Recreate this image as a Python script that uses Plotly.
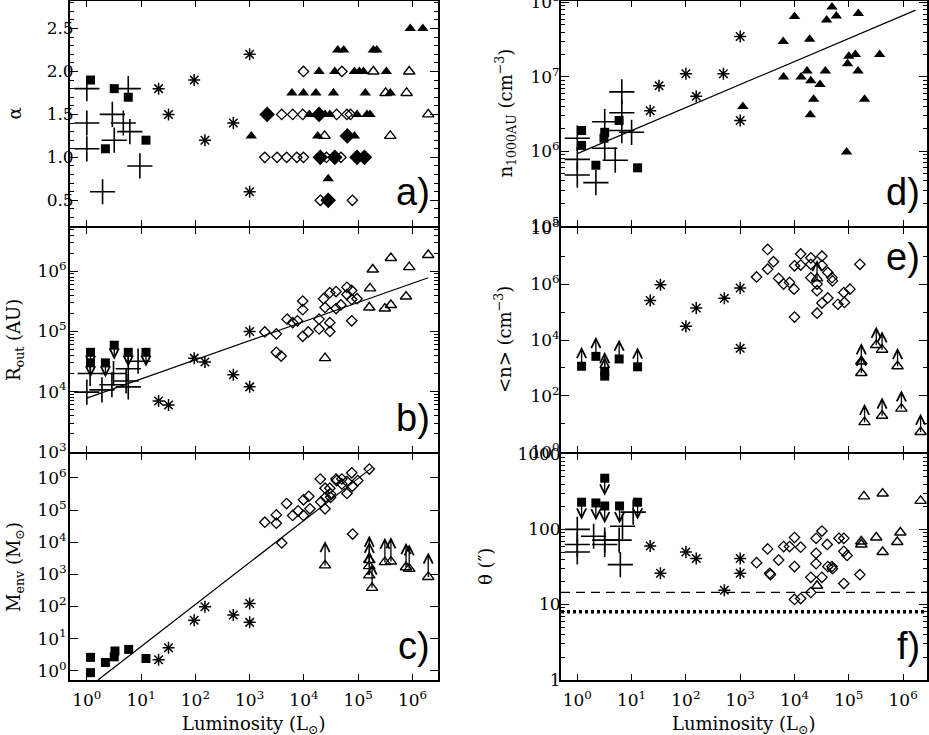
import numpy as np
import plotly.graph_objects as go

# ---------------- data ----------------
# panel a : alpha
a_plus_L = [1.0, 1.0, 1.0, 1.95, 2.95, 3.2, 4.7, 5.8, 6.2, 9.5]
a_plus_alpha = [1.8, 1.4, 1.1, 0.6, 1.5, 1.2, 1.4, 1.8, 1.3, 0.9]
a_sq_L = [1.17, 2.2, 3.2, 5.8, 12.3]
a_sq_alpha = [1.9, 1.1, 1.8, 1.7, 1.2]
a_ast_L = [21, 32, 95, 150, 500, 1000, 1000]
a_ast_alpha = [1.8, 1.5, 1.9, 1.2, 1.4, 2.2, 0.6]
a_dopen_L = [9.8e3, 5.0e4, 3.9e3, 6.2e3, 9.5e3, 4.0e4, 6.2e4, 7.2e4, 1.9e3, 3.2e3,
             4.8e3, 7.4e3, 9.8e3, 2.6e4, 4.8e4, 2.0e4, 7.8e4]
a_dopen_alpha = [2.0, 2.0, 1.5, 1.5, 1.5, 1.5, 1.5, 1.5, 1.0, 1.0,
                 1.0, 1.0, 1.0, 1.0, 1.0, 0.5, 0.5]
a_dfill_L = [2.1e3, 1.9e4, 6.3e4, 2.0e4, 3.7e4, 9.5e4, 1.3e5, 2.8e4]
a_dfill_alpha = [1.5, 1.5, 1.25, 1.0, 1.0, 1.0, 1.0, 0.5]
a_tfill_L = [9.1e5, 1.55e6, 4.2e4, 5.4e4, 1.9e5, 2.2e5, 1.9e4, 3.7e4, 8.5e4, 1.05e5,
             1.25e5, 3.3e5, 6.0e3, 9.8e3, 1.66e4, 3.5e4, 1.35e5, 3.9e5, 1.26e4, 2.45e4,
             3.0e4, 9.5e4, 1.45e5, 1.65e5, 1.07e3, 1.8e4, 8.5e4, 2.8e4]
a_tfill_alpha = [2.5, 2.5, 2.25, 2.25, 2.25, 2.25, 2.0, 2.0, 2.0, 2.0,
                 2.0, 2.0, 1.75, 1.75, 1.75, 1.75, 1.75, 1.75, 1.5, 1.5,
                 1.5, 1.5, 1.5, 1.5, 1.25, 1.25, 1.25, 0.75]
a_topen_L = [1.9e5, 8.7e5, 3.2e5, 7.8e5, 1.95e6, 2.4e4, 3.9e5]
a_topen_alpha = [2.0, 2.0, 1.75, 1.75, 1.5, 1.25, 1.25]

# panel b : R_out (AU)
b_plus_L = [1.0, 1.15, 1.9, 2.9, 3.1, 5.3, 5.8, 5.8, 8.8]
b_plus_R = [9.8e3, 2.0e4, 1.07e4, 1.3e4, 2.0e4, 1.5e4, 1.2e4, 2.4e4, 3.2e4]
b_sq_L = [1.17, 1.17, 2.2, 3.2, 5.8, 12.3]          # upper limits
b_sq_R = [4.5e4, 3.0e4, 3.0e4, 5.9e4, 4.5e4, 4.5e4]
b_ast_L = [21, 32, 95, 150, 500, 1000, 1000]
b_ast_R = [7.0e3, 6.0e3, 3.6e4, 3.1e4, 1.9e4, 1.0e5, 1.2e4]
b_dopen_L = [1.9e3, 3.1e3, 3.1e3, 3.8e3, 4.9e3, 6.2e3, 7.6e3, 9.5e3, 9.5e3, 9.5e3,
             1.2e4, 1.9e4, 1.9e4, 2.3e4, 2.45e4, 3.0e4, 3.0e4, 3.0e4, 3.9e4, 3.9e4,
             4.8e4, 6.2e4, 6.2e4, 7.6e4, 7.6e4, 7.6e4, 9.5e4]
b_dopen_R = [9.8e4, 9.1e4, 4.5e4, 3.9e4, 1.6e5, 1.4e5, 1.5e5, 3.2e5, 2.3e5, 8.3e4,
             9.8e4, 1.6e5, 1.1e5, 3.5e5, 2.5e5, 4.4e5, 1.4e5, 1.0e5, 4.6e5, 2.4e5,
             2.75e5, 5.4e5, 4.1e5, 4.8e5, 3.4e5, 1.5e5, 3.5e5]
b_topen_L = [2.45e4, 1.6e5, 1.65e5, 1.85e5, 3.1e5, 4.0e5, 4.0e5, 7.6e5, 8.7e5, 1.95e6]
b_topen_R = [3.6e4, 2.5e5, 5.2e5, 1.07e6, 2.4e5, 2.75e5, 1.66e6, 3.8e5, 1.17e6, 1.86e6]
b_fit_L = [1.0, 1.95e6]
b_fit_R = [7.8e3, 7.8e5]

# panel c : M_env (Msun)
c_sq_L = [1.17, 1.17, 2.2, 3.2, 3.3, 5.9, 12.3]
c_sq_M = [2.6, 0.87, 1.8, 2.7, 4.1, 4.6, 2.4]
c_ast_L = [21, 32, 95, 150, 500, 1000, 1000]
c_ast_M = [2.2, 5.2, 37, 98, 54, 123, 32]
c_dopen_L = [1.9e3, 3.1e3, 3.1e3, 3.9e3, 4.8e3, 6.2e3, 7.8e3, 9.8e3, 9.8e3, 1.23e4,
             1.29e4, 2.0e4, 2.05e4, 2.45e4, 2.45e4, 2.5e4, 3.0e4, 3.1e4, 3.1e4, 3.9e4,
             4.0e4, 5.0e4, 5.0e4, 6.2e4, 6.2e4, 7.6e4, 7.8e4, 7.9e4, 9.8e4, 1.6e5]
c_dopen_M = [4.2e4, 7.1e4, 3.9e4, 9.5e3, 1.6e5, 6.8e4, 9.5e4, 2.1e5, 6.8e4, 2.7e5,
             1.1e5, 9.3e5, 1.8e5, 4.8e5, 1.1e5, 2.5e5, 4.8e5, 3.2e5, 2.5e5, 9.3e5,
             8.3e5, 9.3e5, 6.5e5, 7.8e5, 3.3e5, 1.45e6, 5.5e5, 1.8e4, 8.3e5, 1.9e6]
c_topen_L = [2.45e4, 1.6e5, 1.6e5, 1.6e5, 1.8e5, 3.1e5, 4.0e5, 7.6e5, 8.7e5, 1.95e6]   # lower limits
c_topen_M = [1.9e3, 2.8e3, 1.8e3, 9.3e2, 3.8e2, 2.4e3, 2.5e3, 1.66e3, 1.5e3, 8.3e2]
c_fit_L = [1.6, 1.8e5]
c_fit_M = [0.51, 2.1e6]

# panel d : n_1000AU (cm^-3)
d_plus_L = [1.0, 1.0, 1.0, 2.2, 3.2, 3.2, 5.0, 6.6, 6.6, 6.6, 10.0]
d_plus_n = [1.5e6, 7.8e5, 4.8e5, 3.8e5, 2.5e6, 1.1e6, 7.6e5, 6.3e6, 3.3e6, 1.9e6, 1.8e6]
d_sq_L = [1.2, 1.2, 2.2, 3.1, 3.2, 5.9, 12.9]
d_sq_n = [1.9e6, 1.2e6, 6.5e5, 1.5e6, 1.8e6, 2.6e6, 6.0e5]
d_ast_L = [22, 32, 100, 155, 490, 1000, 1000]
d_ast_n = [3.5e6, 7.6e6, 1.1e7, 5.5e6, 1.1e7, 3.5e7, 2.6e6]
d_tfill_L = [1.12e3, 6.2e3, 6.3e3, 1.0e4, 1.32e4, 1.7e4, 1.9e4, 1.95e4, 2.0e4, 2.25e4,
             2.95e4, 3.7e4, 3.9e4, 4.9e4, 5.9e4, 9.1e4, 9.5e4, 1.0e5, 1.32e5, 1.48e5,
             1.5e5, 1.95e5, 3.7e5]
d_tfill_n = [4.0e6, 3.0e7, 1.0e7, 6.5e7, 1.0e7, 1.2e7, 3.2e7, 3.1e6, 8.9e6, 5.0e6,
             7.9e6, 1.2e7, 5.8e7, 8.7e7, 6.6e7, 9.8e5, 1.5e7, 1.9e7, 2.0e7, 1.2e7,
             7.1e7, 5.0e6, 2.0e7]
d_fit_L = [1.0, 1.7e6]
d_fit_n = [9.3e5, 7.9e7]

# panel e : <n> (cm^-3)
e_sq_L = [1.2, 2.2, 3.2, 3.2, 5.9, 12.9]          # lower limits
e_sq_n = [1.15e3, 2.6e3, 5.1e2, 7.6e2, 2.1e3, 1.1e3]
e_ast_L = [22, 34, 100, 155, 510, 1000, 1000]
e_ast_n = [2.6e5, 9.5e5, 3.1e4, 1.4e5, 3.1e5, 7.2e5, 5.1e3]
e_dopen_L = [2.0e3, 3.2e3, 3.2e3, 4.1e3, 5.1e3, 6.3e3, 8.1e3, 9.8e3, 1.0e4, 1.0e4,
             1.3e4, 1.3e4, 2.0e4, 2.0e4, 2.0e4, 2.6e4, 2.6e4, 2.6e4, 3.2e4, 3.2e4,
             3.2e4, 4.1e4, 4.1e4, 4.9e4, 5.0e4, 6.3e4, 8.1e4, 8.3e4, 1.05e5, 1.6e5]
e_dopen_n = [1.8e6, 1.74e7, 3.4e6, 6.3e6, 1.6e6, 1.0e6, 1.15e6, 6.6e5, 4.5e6, 6.6e4,
             1.2e7, 4.8e6, 8.7e6, 5.1e6, 1.7e6, 1.0e6, 5.8e5, 9.1e4, 1.0e7, 4.7e6,
             2.1e5, 2.6e6, 3.2e5, 1.7e6, 1.3e6, 1.9e5, 5.0e5, 2.2e5, 6.6e5, 5.1e6]
e_topen_L = [2.6e4, 1.7e5, 1.7e5, 3.2e5, 4.1e5, 7.9e5, 1.95e5, 4.1e5, 9.3e5, 2.1e6]   # lower limits
e_topen_n = [1.6e6, 1.7e3, 6.6e2, 6.6e3, 4.5e3, 1.15e3, 11.5, 19.5, 35, 5.1]

# panel f : theta (arcsec)
f_plus_L = [1.0, 1.0, 1.0, 2.0, 3.2, 3.2, 5.9, 6.8, 6.2, 10.7]
f_plus_t = [100, 63, 50, 81, 72, 63, 72, 110, 34, 170]
f_sq_L = [1.2, 2.2, 3.2, 3.2, 6.0, 12.9]          # upper limits
f_sq_t = [230, 225, 205, 480, 205, 230]
f_ast_L = [22, 34, 100, 155, 510, 1000, 1000]
f_ast_t = [60, 26, 50, 41, 15.5, 41, 26]
f_dopen_L = [2.0e3, 3.2e3, 3.5e3, 3.6e3, 5.1e3, 6.3e3, 8.1e3, 1.0e4, 1.0e4, 1.3e4,
             2.5e4, 2.5e4, 2.5e4, 3.2e4, 3.2e4, 4.0e4, 4.1e4, 4.9e4, 5.0e4, 6.6e4,
             8.1e4, 8.1e4, 9.3e4, 8.1e4, 1.6e5, 2.0e4, 2.0e4, 1.0e4, 1.3e4]
f_dopen_t = [36, 55, 26, 25, 39, 59, 59, 78, 32, 58,
             76, 48, 35, 95, 23, 63, 32, 32, 30, 76,
             76, 51, 45, 19, 25, 23, 14.5, 11.7, 12]
f_topen_L = [2.6e4, 1.7e5, 1.7e5, 1.9e5, 3.2e5, 4.2e5, 4.2e5, 7.8e5, 8.9e5, 2.1e6]
f_topen_t = [17.8, 63, 69, 275, 78, 300, 50, 68, 91, 240]
f_dashed_t = 14.5
f_dotted_t = 8.0

# tick labels
lum_ticks = [1, 10, 100, 1e3, 1e4, 1e5, 1e6]
lum_ticktext = ["10<sup>%d</sup>" % k for k in range(7)]

# ---------------- styling ----------------
BLK = "black"
SERIF = "DejaVu Serif, Liberation Serif, serif"
STY = {
    "plus": dict(symbol="cross-thin-open", size=18, color=BLK, line=dict(width=1.6, color=BLK)),
    "sq": dict(symbol="square", size=9, color=BLK, line=dict(width=0)),
    "ast": dict(symbol="asterisk-open", size=10, color=BLK, line=dict(width=1.5, color=BLK)),
    "dopen": dict(symbol="diamond-open", size=8, color=BLK, line=dict(width=1.3, color=BLK)),
    "dfill": dict(symbol="diamond", size=12, color=BLK, line=dict(width=0)),
    "tfill": dict(symbol="triangle-up", size=10, color=BLK, line=dict(width=0)),
    "topen": dict(symbol="triangle-up-open", size=10, color=BLK, line=dict(width=1.4, color=BLK)),
}


def xn(n):
    return "x" if n == 1 else "x%d" % n


def yn(n):
    return "y" if n == 1 else "y%d" % n


fig = go.Figure()
annotations = []
shapes = []


def pts(n, xs, ys, kind):
    fig.add_trace(go.Scatter(x=xs, y=ys, mode="markers", marker=STY[kind],
                             xaxis=xn(n), yaxis=yn(n), showlegend=False,
                             hoverinfo="skip"))


def fitline(n, xs, ys):
    fig.add_trace(go.Scatter(x=xs, y=ys, mode="lines", line=dict(color=BLK, width=1.2),
                             xaxis=xn(n), yaxis=yn(n), showlegend=False,
                             hoverinfo="skip"))


def arrows(n, xs, ys, length_px):
    # arrow starting at the data point, head drawn at the far end
    for xv, yv in zip(xs, ys):
        annotations.append(dict(
            x=float(np.log10(xv)), y=float(np.log10(yv)),
            xref=xn(n), yref=yn(n), text="", showarrow=True,
            arrowside="start", startarrowhead=5, startarrowsize=1.4,
            arrowwidth=1.3, arrowcolor=BLK, ax=0, ay=length_px,
            standoff=0, startstandoff=0))


# panel a (1)
pts(1, a_plus_L, a_plus_alpha, "plus")
pts(1, a_sq_L, a_sq_alpha, "sq")
pts(1, a_ast_L, a_ast_alpha, "ast")
pts(1, a_dopen_L, a_dopen_alpha, "dopen")
pts(1, a_dfill_L, a_dfill_alpha, "dfill")
pts(1, a_tfill_L, a_tfill_alpha, "tfill")
pts(1, a_topen_L, a_topen_alpha, "topen")

# panel b (2)
fitline(2, b_fit_L, b_fit_R)
pts(2, b_plus_L, b_plus_R, "plus")
arrows(2, b_sq_L, b_sq_R, 16)
pts(2, b_sq_L, b_sq_R, "sq")
pts(2, b_ast_L, b_ast_R, "ast")
pts(2, b_dopen_L, b_dopen_R, "dopen")
pts(2, b_topen_L, b_topen_R, "topen")

# panel c (3)
fitline(3, c_fit_L, c_fit_M)
pts(3, c_sq_L, c_sq_M, "sq")
pts(3, c_ast_L, c_ast_M, "ast")
pts(3, c_dopen_L, c_dopen_M, "dopen")
arrows(3, c_topen_L, c_topen_M, -26)
pts(3, c_topen_L, c_topen_M, "topen")

# panel d (4)
fitline(4, d_fit_L, d_fit_n)
pts(4, d_plus_L, d_plus_n, "plus")
pts(4, d_sq_L, d_sq_n, "sq")
pts(4, d_ast_L, d_ast_n, "ast")
pts(4, d_tfill_L, d_tfill_n, "tfill")

# panel e (5)
arrows(5, e_sq_L, e_sq_n, -21)
pts(5, e_sq_L, e_sq_n, "sq")
pts(5, e_ast_L, e_ast_n, "ast")
pts(5, e_dopen_L, e_dopen_n, "dopen")
arrows(5, e_topen_L, e_topen_n, -20)
pts(5, e_topen_L, e_topen_n, "topen")

# panel f (6)
pts(6, f_plus_L, f_plus_t, "plus")
arrows(6, f_sq_L, f_sq_t, 19)
pts(6, f_sq_L, f_sq_t, "sq")
pts(6, f_ast_L, f_ast_t, "ast")
pts(6, f_dopen_L, f_dopen_t, "dopen")
pts(6, f_topen_L, f_topen_t, "topen")
shapes.append(dict(type="line", xref="x6 domain", yref="y6", x0=0, x1=1,
                   y0=f_dashed_t, y1=f_dashed_t,
                   line=dict(color=BLK, width=1.2, dash="9px,6px")))
shapes.append(dict(type="line", xref="x6 domain", yref="y6", x0=0, x1=1,
                   y0=f_dotted_t, y1=f_dotted_t,
                   line=dict(color=BLK, width=3.5, dash="3px,3px")))

# ---------------- axes ----------------
W, H = 929, 735
LW = 1.8
XL = [70 / W, 438 / W]
XR = [561 / W, 927 / W]
# rows separated by one line width so the shared borders coincide
ROW = {0: [1 - (227 - LW / 2) / H, 1 - 1 / H],
       1: [1 - (453 - LW / 2) / H, 1 - (227 + LW / 2) / H],
       2: [1 - 680 / H, 1 - (453 + LW / 2) / H]}

common = dict(showline=True, linewidth=LW, linecolor=BLK, mirror="allticks",
              ticks="inside", tickcolor=BLK, tickwidth=1.3, showgrid=False,
              zeroline=False, automargin=False, ticklabeloverflow="allow",
              tickfont=dict(family=SERIF, size=17, color=BLK))


def logminor(k0, k1):
    return [m * 10.0 ** k for k in range(k0, k1) for m in range(2, 10)]


layout_axes = {}
for n in range(1, 7):
    left = n <= 3
    row = (n - 1) % 3
    xa = dict(common, type="log", domain=XL if left else XR,
              range=[-0.31, 6.47] if left else [-0.30, 6.44],
              tickmode="array", tickvals=lum_ticks, ticktext=lum_ticktext,
              ticklen=6, anchor=yn(n), showticklabels=(row == 2),
              ticklabelstandoff=4)
    layout_axes["xaxis" if n == 1 else "xaxis%d" % n] = xa

yspec = {
    1: dict(type="linear", range=[0.2, 2.82], tickvals=[0.5, 1.0, 1.5, 2.0, 2.5],
            ticktext=["0.5", "1.0", "1.5", "2.0", "2.5"], ticklabelstandoff=-9,
            minor=dict(ticks="inside", ticklen=4, tickcolor=BLK, dtick=0.1, tick0=0, showgrid=False)),
    2: dict(type="log", range=[2.995, 6.72], tickvals=[1e3, 1e4, 1e5, 1e6],
            ticktext=["10<sup>3</sup>", "10<sup>4</sup>", "10<sup>5</sup>", "10<sup>6</sup>"],
            ticklabelstandoff=-2,
            minor=dict(ticks="inside", ticklen=4, tickcolor=BLK, tickmode="array",
                       tickvals=logminor(3, 7), showgrid=False)),
    3: dict(type="log", range=[-0.29, 6.75], tickvals=[1e0, 1e1, 1e2, 1e3, 1e4, 1e5, 1e6],
            ticktext=["10<sup>%d</sup>" % k for k in range(7)], ticklabelstandoff=-2),
    4: dict(type="log", range=[4.995, 8.02], tickvals=[1e5, 1e6, 1e7, 1e8],
            ticktext=["10<sup>5</sup>", "10<sup>6</sup>", "10<sup>7</sup>", "10<sup>8</sup>"],
            ticklabelstandoff=-4,
            minor=dict(ticks="inside", ticklen=4, tickcolor=BLK, tickmode="array",
                       tickvals=logminor(5, 8), showgrid=False)),
    5: dict(type="log", range=[-0.01, 8.01], tickvals=[1e0, 1e2, 1e4, 1e6, 1e8],
            ticktext=["10<sup>0</sup>", "10<sup>2</sup>", "10<sup>4</sup>", "10<sup>6</sup>", "10<sup>8</sup>"],
            ticklabelstandoff=-4,
            minor=dict(ticks="inside", ticklen=4, tickcolor=BLK, tickmode="array",
                       tickvals=[1e1, 1e3, 1e5, 1e7], showgrid=False)),
    6: dict(type="log", range=[-0.005, 3.005], tickvals=[1, 10, 100, 1000],
            ticktext=["1", "10", "100", "1000"], ticklabelstandoff=-5,
            minor=dict(ticks="inside", ticklen=4, tickcolor=BLK, tickmode="array",
                       tickvals=logminor(0, 3), showgrid=False)),
}
for n in range(1, 7):
    row = (n - 1) % 3
    ya = dict(common, domain=ROW[row], anchor=xn(n), tickmode="array", ticklen=8)
    ya.update(yspec[n])
    layout_axes["yaxis" if n == 1 else "yaxis%d" % n] = ya

# ---------------- text ----------------
ytitles = [
    (1, 15, "α"),
    (2, 15, "R<sub>out</sub> (AU)"),
    (3, 15, "M<sub>env</sub> (M<sub>⊙</sub>)"),
    (4, 505, "n<sub>1000AU</sub> (cm<sup>−3</sup>)"),
    (5, 503, "&lt;n&gt; (cm<sup>−3</sup>)"),
    (6, 486, "θ (″)"),
]
for n, xpx, txt in ytitles:
    row = (n - 1) % 3
    annotations.append(dict(text=txt, xref="paper", yref="paper", x=xpx / W,
                            y=sum(ROW[row]) / 2, textangle=-90, showarrow=False,
                            xanchor="center", yanchor="middle",
                            font=dict(family=SERIF, size=18, color=BLK)))
for xc in (sum(XL) / 2, sum(XR) / 2):
    annotations.append(dict(text="Luminosity (L<sub>⊙</sub>)", xref="paper", yref="paper",
                            x=xc, y=0, yshift=-4, showarrow=False, xanchor="center",
                            yanchor="bottom", font=dict(family=SERIF, size=18, color=BLK)))

for n, lab, top in [(1, "a)", False), (2, "b)", False), (3, "c)", False),
                    (4, "d)", False), (5, "e)", True), (6, "f)", False)]:
    annotations.append(dict(text=lab, xref=xn(n) + " domain", yref=yn(n) + " domain",
                            x=0.985, y=0.975 if top else 0.05, showarrow=False,
                            xanchor="right", yanchor="top" if top else "bottom",
                            font=dict(family="Liberation Sans", size=38, color=BLK)))

fig.update_layout(width=W, height=H, margin=dict(l=0, r=0, t=0, b=0, autoexpand=False),
                  paper_bgcolor="white", plot_bgcolor="white",
                  annotations=annotations, shapes=shapes, **layout_axes)

fig.write_html("out.html", config={"displayModeBar": False},
               post_script="document.body.style.margin='0px';")
